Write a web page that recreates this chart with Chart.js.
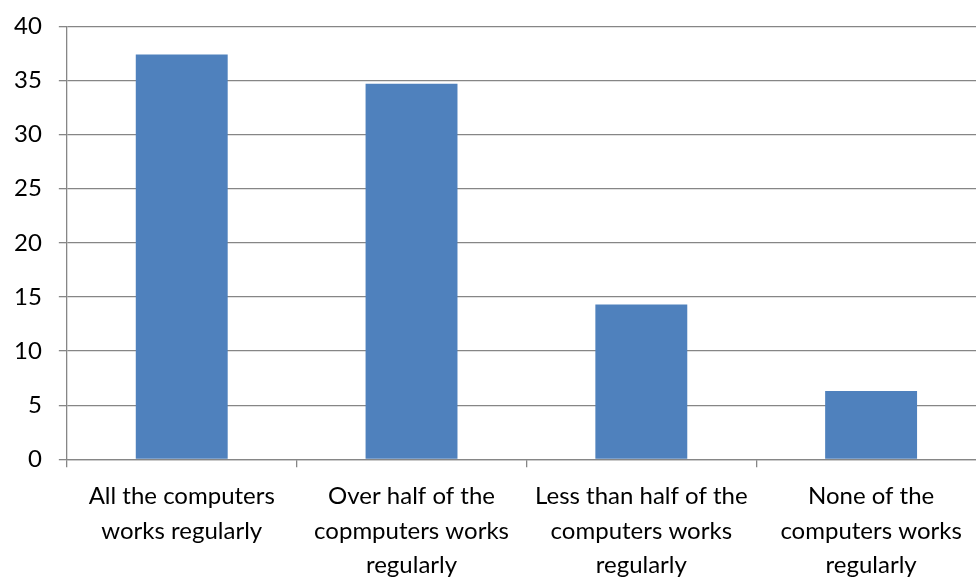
<!DOCTYPE html>
<html>
<head>
<meta charset="utf-8">
<script src="https://cdn.jsdelivr.net/npm/chart.js@4"></script>
<style>
    html, body { margin: 0; padding: 0; background: #fff; overflow: hidden; }
    #wrap { width: 989px; height: 603px; position: relative; margin-left: -3px; margin-top: -8px; }
</style>
</head>
<body>
<div id="wrap"><canvas id="chartWorks"></canvas></div>
<script>
// categories (multi-line labels) and values
var categories = [
    ['All the computers', 'works regularly'],
    ['Over half of the', 'copmputers works', 'regularly'],
    ['Less than half of the', 'computers works', 'regularly'],
    ['None of the', 'computers works', 'regularly']
];
var values = [37.4, 34.7, 14.3, 6.3];
var yTicks = [0, 5, 10, 15, 20, 25, 30, 35, 40];

document.addEventListener('DOMContentLoaded', function () {
    var ctx = document.getElementById('chartWorks');
    var font = { family: 'Lato, "Open Sans", sans-serif', size: 24, lineHeight: 1.44 };
    new Chart(ctx, {
        type: 'bar',
        data: {
            labels: categories,
            datasets: [{
                data: values,
                backgroundColor: '#4f81bd',
                borderWidth: 0,
                categoryPercentage: 0.4,
                barPercentage: 1.0
            }]
        },
        options: {
            responsive: true,
            maintainAspectRatio: false,
            animation: false,
            layout: { padding: { top: 5, left: 0, right: 0, bottom: 0 } },
            scales: {
                y: {
                    min: 0,
                    max: 40,
                    afterBuildTicks: function (axis) {
                        axis.ticks = yTicks.map(function (v) { return { value: v }; });
                    },
                    ticks: { color: '#000', font: font, padding: 17 },
                    grid: { color: '#868686', lineWidth: 1.3, tickLength: 8 },
                    border: { color: '#868686', width: 1.3 }
                },
                x: {
                    ticks: { color: '#000', font: font, padding: 12, maxRotation: 0, autoSkip: false },
                    grid: { drawOnChartArea: false, color: '#868686', lineWidth: 1.3, tickLength: 8 },
                    border: { color: '#868686', width: 1.3 }
                }
            },
            plugins: { legend: { display: false }, tooltip: { enabled: false } }
        }
    });
});
</script>
</body>
</html>
